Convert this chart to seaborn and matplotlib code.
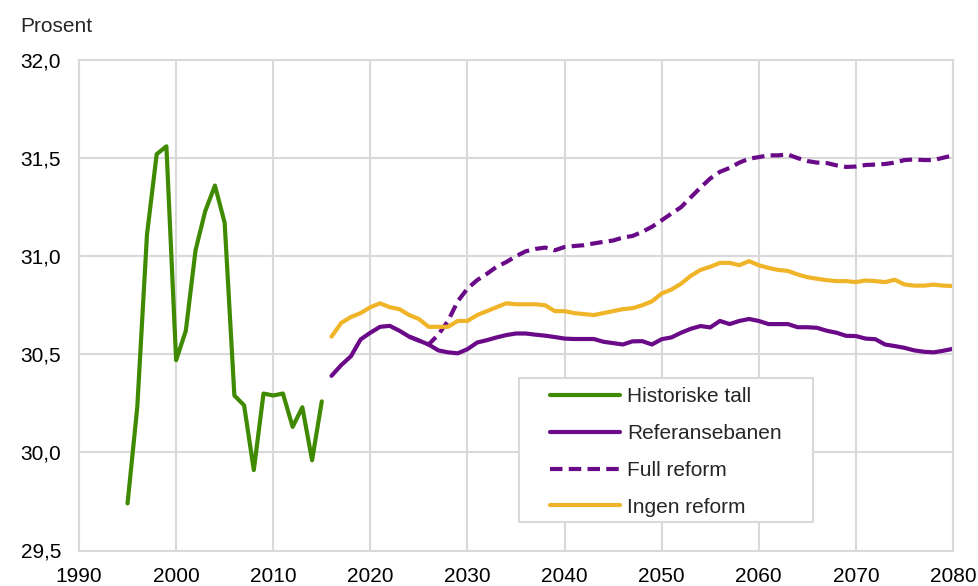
import numpy as np
import pandas as pd
import matplotlib
matplotlib.use("Agg")
import matplotlib.pyplot as plt
import seaborn as sns
from matplotlib.ticker import FuncFormatter
from matplotlib.patches import Rectangle

# ---------------- data ----------------
years_hist = list(range(1995, 2016))
historiske = [29.74, 30.23, 31.11, 31.52, 31.56, 30.47, 30.62, 31.03, 31.23, 31.36,
              31.17, 30.29, 30.24, 29.91, 30.30, 30.29, 30.30, 30.13, 30.23, 29.96, 30.26]

years_proj = list(range(2016, 2081))
referanse = [30.39, 30.445, 30.49, 30.576, 30.61, 30.64, 30.645, 30.62, 30.59, 30.57,
             30.55, 30.52, 30.51, 30.505, 30.526, 30.56, 30.572, 30.586, 30.598, 30.606,
             30.606, 30.60, 30.595, 30.588, 30.58, 30.578, 30.578, 30.578, 30.564, 30.557,
             30.55, 30.566, 30.567, 30.55, 30.577, 30.586, 30.61, 30.63, 30.644, 30.637,
             30.67, 30.654, 30.67, 30.68, 30.67, 30.654, 30.654, 30.654, 30.638, 30.638,
             30.635, 30.62, 30.61, 30.594, 30.593, 30.58, 30.577, 30.55, 30.542, 30.533,
             30.52, 30.513, 30.51, 30.518, 30.528]
ingen_reform = [30.59, 30.66, 30.69, 30.71, 30.74, 30.76, 30.74, 30.73, 30.70, 30.68,
                30.64, 30.64, 30.64, 30.67, 30.67, 30.70, 30.72, 30.74, 30.76, 30.755,
                30.755, 30.755, 30.75, 30.72, 30.72, 30.71, 30.705, 30.70, 30.71, 30.72,
                30.73, 30.735, 30.75, 30.77, 30.81, 30.83, 30.86, 30.90, 30.93, 30.946,
                30.966, 30.966, 30.954, 30.975, 30.954, 30.94, 30.93, 30.925, 30.907, 30.893,
                30.885, 30.878, 30.873, 30.873, 30.868, 30.876, 30.873, 30.868, 30.88, 30.856,
                30.85, 30.85, 30.855, 30.85, 30.848]

years_full = list(range(2024, 2081))
full_reform = [30.59, 30.57, 30.55, 30.60, 30.67, 30.77, 30.835, 30.878, 30.91, 30.946,
               30.97, 31.0, 31.025, 31.037, 31.044, 31.03, 31.047, 31.052, 31.056, 31.065,
               31.073, 31.08, 31.095, 31.103, 31.124, 31.15, 31.183, 31.217, 31.25, 31.30,
               31.35, 31.396, 31.43, 31.45, 31.477, 31.497, 31.505, 31.514, 31.514, 31.518,
               31.50, 31.485, 31.477, 31.475, 31.463, 31.455, 31.457, 31.465, 31.467, 31.47,
               31.477, 31.49, 31.493, 31.49, 31.49, 31.502, 31.514]

labels = ["Historiske tall", "Referansebanen", "Full reform", "Ingen reform"]
x_ticks = list(range(1990, 2081, 10))
y_ticks = [29.5, 30.0, 30.5, 31.0, 31.5, 32.0]

# ---------------- style ----------------
sns.set_style("whitegrid", {"grid.color": "#d9d9d9", "axes.edgecolor": "#d9d9d9"})
plt.rcParams["font.family"] = ["Liberation Sans", "DejaVu Sans"]

green = "#3f8a00"
purple = "#6a0a88"
yellow = "#f0b428"
lw = 3.0

fig = plt.figure(figsize=(9.79, 5.86), dpi=100)
W, H = 979, 586
L, R, T, B = 79, 953, 60, 550.5
ax = fig.add_axes([L / W, (H - B) / H, (R - L) / W, (B - T) / H])

df_h = pd.DataFrame({"year": years_hist, "value": historiske})
df_r = pd.DataFrame({"year": years_proj, "value": referanse})
df_f = pd.DataFrame({"year": years_full, "value": full_reform})
df_i = pd.DataFrame({"year": years_proj, "value": ingen_reform})

sns.lineplot(data=df_h, x="year", y="value", ax=ax, color=green, linewidth=lw, label=labels[0])
sns.lineplot(data=df_r, x="year", y="value", ax=ax, color=purple, linewidth=lw, label=labels[1])
sns.lineplot(data=df_f, x="year", y="value", ax=ax, color=purple, linewidth=lw,
             linestyle=(0, (3.0, 1.5)), label=labels[2])
sns.lineplot(data=df_i, x="year", y="value", ax=ax, color=yellow, linewidth=lw, label=labels[3])

ax.set_xlim(1990, 2080)
ax.set_ylim(29.5, 32.0)
ax.set_xticks(x_ticks)
ax.set_yticks(y_ticks)
ax.yaxis.set_major_formatter(FuncFormatter(lambda v, p: f"{v:.1f}".replace(".", ",")))
ax.set_xlabel("")
ax.set_ylabel("")
ax.grid(True, color="#d9d9d9", linewidth=1.5)
for s in ax.spines.values():
    s.set_color("#d9d9d9")
    s.set_linewidth(1.5)
ax.tick_params(axis="both", length=0, labelsize=15, labelcolor="black")
ax.tick_params(axis="y", pad=13)
ax.tick_params(axis="x", pad=12)

fig.text(20 / W, 1 - 26 / H, "Prosent", fontsize=15, ha="left", va="center")

# legend frame
x0 = (519 - L) / (R - L)
x1 = (813 - L) / (R - L)
y0 = (B - 522.3) / (B - T)
y1 = (B - 378) / (B - T)
ax.add_patch(Rectangle((x0, y0), x1 - x0, y1 - y0, transform=ax.transAxes,
                       facecolor="white", edgecolor="#d9d9d9", linewidth=1.5, zorder=4))
leg = ax.legend(loc="upper left", bbox_to_anchor=((550 - L) / (R - L), (B - 387.5) / (B - T)),
                frameon=False, fontsize=15, handlelength=3.37, handletextpad=0.33,
                labelspacing=0.85, borderpad=0, borderaxespad=0)
leg.set_zorder(5)

fig.savefig("out.png", dpi=100)
